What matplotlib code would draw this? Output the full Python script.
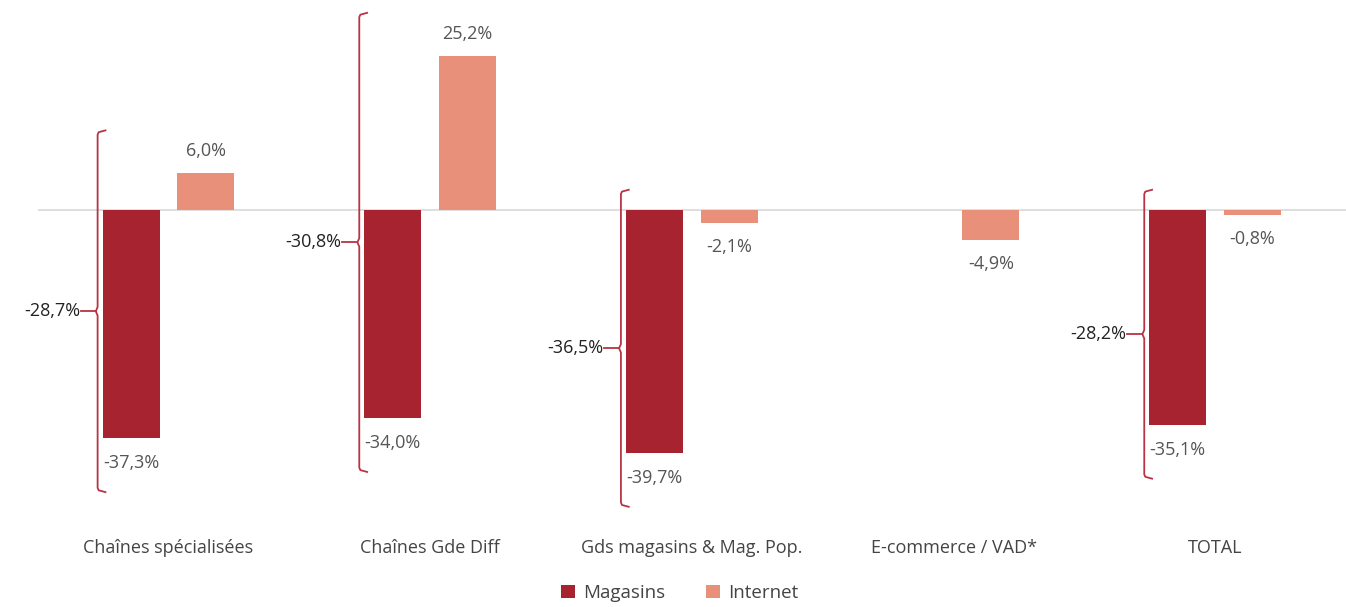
import numpy as np
import matplotlib
matplotlib.use("Agg")
import matplotlib.pyplot as plt

plt.rcParams['font.family'] = ['Open Sans', 'DejaVu Sans']

categories = ["Chaînes spécialisées", "Chaînes Gde Diff", "Gds magasins & Mag. Pop.",
              "E-commerce / VAD*", "TOTAL"]
magasins = [-37.3, -34.0, -39.7, np.nan, -35.1]
internet = [6.0, 25.2, -2.1, -4.9, -0.8]
# valeur affichée sur l'accolade
evolution = [-28.7, -30.8, -36.5, np.nan, -28.2]

col_mag = "#A6232F"
col_int = "#E8907A"
col_brace = "#B83444"
fs = 13

def fmt(v):
    return ("%.1f%%" % v).replace(".", ",")

fig = plt.figure(figsize=(13.46, 6.07), dpi=100)
ax = fig.add_axes([0.028, 0.16, 0.972, 0.84])

x = np.arange(len(categories))
w = 0.218
off = 0.143

ax.bar(x - off, magasins, w, color=col_mag, label="Magasins", zorder=2)
ax.bar(x + off, internet, w, color=col_int, label="Internet", zorder=2)
ax.axhline(0, color="#d9d9d9", lw=1.2, zorder=1)

ax.set_xlim(-0.5, 4.5)
ax.set_ylim(-49, 34.3)

for i in range(len(categories)):
    m = magasins[i]
    n = internet[i]
    if not np.isnan(m):
        ax.text(x[i] - off, m - 4.1, fmt(m), ha="center", va="center", fontsize=fs, color="#555555")
    if n >= 0:
        ax.text(x[i] + off, n + 3.6, fmt(n), ha="center", va="center", fontsize=fs, color="#555555")
    else:
        ax.text(x[i] + off, n - 4.0, fmt(n), ha="center", va="center", fontsize=fs, color="#555555")

    # accolade
    if np.isnan(evolution[i]):
        continue
    top = n + 7.0 if n > 0 else 3.3
    bot = m - 8.8
    mid = (top + bot) / 2
    xb = x[i] - off - w / 2 - 0.019
    s = 0.7
    bx = [xb + 0.03, xb + 0.004, xb, xb, xb - 0.007, xb, xb, xb + 0.004, xb + 0.03]
    by = [top, top - 0.3, top - s, mid + s, mid, mid - s, bot + s, bot + 0.3, bot]
    ax.plot(bx, by, color=col_brace, lw=1.3, zorder=3, solid_joinstyle="round")
    ax.plot([xb - 0.007, xb - 0.065], [mid, mid], color=col_brace, lw=1.3, zorder=3)
    ax.text(xb - 0.067, mid, fmt(evolution[i]), ha="right", va="center", fontsize=fs, color="#222222")

ax.set_xticks(x)
ax.set_xticklabels(categories, fontsize=fs, color="#444444")
ax.tick_params(axis="x", length=0, pad=21)
ax.set_yticks([])
for sp in ax.spines.values():
    sp.set_visible(False)

fig.legend(loc="center", bbox_to_anchor=(0.505, 0.023), ncol=2, frameon=False,
           fontsize=13.5, handlelength=0.75, handleheight=0.75, handletextpad=0.4,
           columnspacing=2.2, labelcolor="#444444")

fig.savefig("out.png", dpi=100)
